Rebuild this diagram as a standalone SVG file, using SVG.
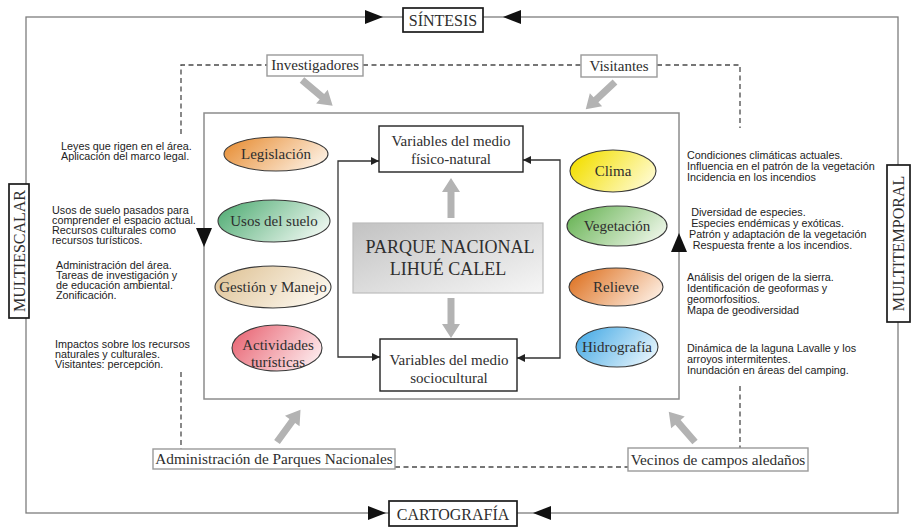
<svg xmlns="http://www.w3.org/2000/svg" xmlns:xlink="http://www.w3.org/1999/xlink" width="912" height="528" viewBox="0 0 912 528">
<style>
.frame{fill:none;stroke:#7d7d7d;stroke-width:1.3}
.inner{fill:none;stroke:#8c8c8c;stroke-width:1.5}
.dash{fill:none;stroke:#4a4a4a;stroke-width:1.3;stroke-dasharray:5 3.5}
.conn{fill:none;stroke:#333;stroke-width:1.3}
.tbox{fill:#fff;stroke:#1a1a1a;stroke-width:1.7}
.abox{fill:#fff;stroke:#9a9a9a;stroke-width:1.4}
.vbox{fill:#fff;stroke:#222;stroke-width:1.4}
.ell{stroke:#3a3a3a;stroke-width:1.1}
.serif{font-family:"Liberation Serif","DejaVu Serif",serif;fill:#2e2e2e;text-anchor:middle}
.sans{font-family:"Liberation Sans",Arial,sans-serif;font-size:10px;fill:#222}
.tri{fill:#111}
.garrow{fill:#b3b3b3}
</style>
<defs>
<marker id="ah" markerUnits="userSpaceOnUse" markerWidth="9" markerHeight="8" refX="8" refY="4" orient="auto">
<path d="M0,0 L8,4 L0,8 z" fill="#222"/>
</marker>
<polygon id="ga" points="0,-3.5 26,-3.5 26,-9 40,0 26,9 26,3.5 0,3.5"/>
<linearGradient id="gPark" x1="0" y1="0" x2="1" y2="1"><stop offset="0" stop-color="#c2c2c2"/><stop offset="1" stop-color="#f6f6f6"/></linearGradient>
<linearGradient id="gLeg" x1="0" y1="0.3" x2="1" y2="0.7"><stop offset="0" stop-color="#e8923c"/><stop offset="1" stop-color="#fdf1e4"/></linearGradient>
<linearGradient id="gUso" x1="0" y1="0.3" x2="1" y2="0.7"><stop offset="0" stop-color="#58b07a"/><stop offset="1" stop-color="#f0f8f2"/></linearGradient>
<linearGradient id="gGes" x1="0" y1="0.3" x2="1" y2="0.7"><stop offset="0" stop-color="#e0c59a"/><stop offset="1" stop-color="#fdf9f1"/></linearGradient>
<linearGradient id="gAct" x1="0" y1="0.3" x2="1" y2="0.7"><stop offset="0" stop-color="#e96a78"/><stop offset="1" stop-color="#fdebed"/></linearGradient>
<linearGradient id="gCli" x1="0" y1="0.3" x2="1" y2="0.7"><stop offset="0" stop-color="#f3df00"/><stop offset="1" stop-color="#fffbd2"/></linearGradient>
<linearGradient id="gVeg" x1="0" y1="0.3" x2="1" y2="0.7"><stop offset="0" stop-color="#6db65a"/><stop offset="1" stop-color="#eef6e9"/></linearGradient>
<linearGradient id="gRel" x1="0" y1="0.3" x2="1" y2="0.7"><stop offset="0" stop-color="#df7628"/><stop offset="1" stop-color="#fdeee2"/></linearGradient>
<linearGradient id="gHid" x1="0" y1="0.3" x2="1" y2="0.7"><stop offset="0" stop-color="#4cade6"/><stop offset="1" stop-color="#e8f5fc"/></linearGradient>
</defs>
<rect width="912" height="528" fill="#fff"/>

<g id="connectors">
<rect class="frame" x="26" y="17" width="872" height="496"/>
<rect class="inner" x="204" y="113" width="475" height="286"/>
<path class="dash" d="M181,134 V65 H267"/>
<path class="dash" d="M363,65 H581"/>
<path class="dash" d="M657,65 H740 V128"/>
<path class="dash" d="M181,372 V449"/>
<path class="dash" d="M395,467 H628"/>
<path class="dash" d="M740,386 V448"/>
<path class="conn" d="M338,259 V161 H379" marker-end="url(#ah)"/>
<path class="conn" d="M338,259 V357 H380" marker-end="url(#ah)"/>
<path class="conn" d="M560,259 V160 H523" marker-end="url(#ah)"/>
<path class="conn" d="M560,259 V358 H517" marker-end="url(#ah)"/>
<polygon class="tri" points="365,10 383,17 365,24"/>
<polygon class="tri" points="521,10 503,17 521,24"/>
<polygon class="tri" points="368,506 386,513 368,520"/>
<polygon class="tri" points="551,506 533,513 551,520"/>
<polygon class="tri" points="196,228 212,228 204,247"/>
<polygon class="tri" points="671,252 687,252 679,233"/>
<use xlink:href="#ga" class="garrow" transform="translate(302,80) rotate(40)"/>
<use xlink:href="#ga" class="garrow" transform="translate(615,82) rotate(137)"/>
<use xlink:href="#ga" class="garrow" transform="translate(451,218) rotate(-90)"/>
<use xlink:href="#ga" class="garrow" transform="translate(451,298) rotate(90)"/>
<use xlink:href="#ga" class="garrow" transform="translate(277,442) rotate(-54)"/>
<use xlink:href="#ga" class="garrow" transform="translate(695,442) rotate(-131)"/>
</g>

<g id="sintesis"><rect class="tbox" x="403" y="8" width="80" height="24"/><text class="serif" x="443" y="26" font-size="16">SÍNTESIS</text></g>
<g id="cartografia"><rect class="tbox" x="389" y="501" width="128" height="25"/><text class="serif" x="453" y="520" font-size="16">CARTOGRAFÍA</text></g>
<g id="multiescalar"><rect class="tbox" x="9" y="184" width="20" height="134"/><text class="serif" font-size="16" transform="translate(24.5,251) rotate(-90)">MULTIESCALAR</text></g>
<g id="multitemporal"><rect class="tbox" x="887" y="165" width="23" height="157"/><text class="serif" font-size="16" transform="translate(904,243.5) rotate(-90)">MULTITEMPORAL</text></g>

<g id="investigadores"><rect class="abox" x="267" y="55" width="96" height="21"/><text class="serif" x="315" y="70" font-size="15">Investigadores</text></g>
<g id="visitantes"><rect class="abox" x="581" y="55" width="76" height="22"/><text class="serif" x="619" y="70.5" font-size="15">Visitantes</text></g>
<g id="administracion"><rect class="abox" x="153" y="449" width="242" height="20"/><text class="serif" x="274" y="464" font-size="15.3">Administración de Parques Nacionales</text></g>
<g id="vecinos"><rect class="abox" x="628" y="448" width="180" height="23"/><text class="serif" x="718" y="464.5" font-size="15.3">Vecinos de campos aledaños</text></g>

<g id="fisico"><rect class="vbox" x="379" y="126" width="144" height="46"/><text class="serif" x="451" y="146" font-size="15">Variables del medio</text><text class="serif" x="451" y="164" font-size="15">físico-natural</text></g>
<g id="socio"><rect class="vbox" x="380" y="339" width="137" height="52"/><text class="serif" x="449" y="365" font-size="15">Variables del medio</text><text class="serif" x="449" y="383" font-size="15">sociocultural</text></g>
<g id="parque"><rect x="353" y="223" width="190" height="70" fill="url(#gPark)" stroke="#bdbdbd" stroke-width="1.2"/><text class="serif" x="450" y="253" font-size="18" fill="#3a3a3a">PARQUE NACIONAL</text><text class="serif" x="448" y="275" font-size="18" fill="#3a3a3a">LIHUÉ CALEL</text></g>

<g id="legislacion"><ellipse class="ell" cx="276" cy="154" rx="52" ry="17" fill="url(#gLeg)"/><text class="serif" x="276" y="159" font-size="15">Legislación</text></g>
<g id="usos"><ellipse class="ell" cx="274" cy="221" rx="56" ry="21" fill="url(#gUso)"/><text class="serif" x="274" y="226" font-size="15">Usos del suelo</text></g>
<g id="gestion"><ellipse class="ell" cx="273" cy="287" rx="58" ry="21" fill="url(#gGes)"/><text class="serif" x="273" y="292" font-size="15">Gestión y Manejo</text></g>
<g id="actividades"><ellipse class="ell" cx="277" cy="348" rx="45" ry="23" fill="url(#gAct)"/><text class="serif" x="278" y="350" font-size="15">Actividades</text><text class="serif" x="278" y="367" font-size="15">turísticas</text></g>
<g id="clima"><ellipse class="ell" cx="613" cy="171" rx="43" ry="21" fill="url(#gCli)"/><text class="serif" x="613" y="176" font-size="15">Clima</text></g>
<g id="vegetacion"><ellipse class="ell" cx="617" cy="226" rx="50" ry="20" fill="url(#gVeg)"/><text class="serif" x="617" y="231" font-size="15">Vegetación</text></g>
<g id="relieve"><ellipse class="ell" cx="616" cy="287" rx="47" ry="19" fill="url(#gRel)"/><text class="serif" x="616" y="292" font-size="15">Relieve</text></g>
<g id="hidrografia"><ellipse class="ell" cx="617" cy="347" rx="41" ry="20" fill="url(#gHid)"/><text class="serif" x="617" y="352" font-size="15">Hidrografía</text></g>

<g id="notes-left">
<text class="sans" transform="translate(61,0) scale(1.08,1)"><tspan x="0" y="150">Leyes que rigen en el área.</tspan><tspan x="0" y="160">Aplicación del marco legal.</tspan></text>
<text class="sans" transform="translate(52,0) scale(1.08,1)"><tspan x="0" y="214">Usos de suelo pasados para</tspan><tspan x="0" y="224">comprender el espacio actual.</tspan><tspan x="0" y="234">Recursos culturales como</tspan><tspan x="0" y="244">recursos turísticos.</tspan></text>
<text class="sans" transform="translate(56,0) scale(1.08,1)"><tspan x="0" y="269">Administración del área.</tspan><tspan x="0" y="279">Tareas de investigación y</tspan><tspan x="0" y="289">de educación ambiental.</tspan><tspan x="0" y="299">Zonificación.</tspan></text>
<text class="sans" transform="translate(55,0) scale(1.08,1)"><tspan x="0" y="348">Impactos sobre los recursos</tspan><tspan x="0" y="358">naturales y culturales.</tspan><tspan x="0" y="368">Visitantes: percepción.</tspan></text>
</g>
<g id="notes-right">
<text class="sans" transform="translate(687,0) scale(1.08,1)"><tspan x="0" y="159">Condiciones climáticas actuales.</tspan><tspan x="0" y="170">Influencia en el patrón de la vegetación</tspan><tspan x="0" y="181">Incidencia en los incendios</tspan></text>
<text class="sans" transform="translate(689,0) scale(1.08,1)"><tspan x="2" y="216">Diversidad de especies.</tspan><tspan x="2" y="227">Especies endémicas y exóticas.</tspan><tspan x="0" y="238">Patrón y adaptación de la vegetación</tspan><tspan x="3.5" y="249">Respuesta frente a los incendios.</tspan></text>
<text class="sans" transform="translate(687,0) scale(1.08,1)"><tspan x="0" y="281">Análisis del origen de la sierra.</tspan><tspan x="0" y="292">Identificación de geoformas y</tspan><tspan x="0" y="303">geomorfositios.</tspan><tspan x="0" y="314">Mapa de geodiversidad</tspan></text>
<text class="sans" transform="translate(687,0) scale(1.08,1)"><tspan x="0" y="352">Dinámica de la laguna Lavalle y los</tspan><tspan x="0" y="363">arroyos intermitentes.</tspan><tspan x="0" y="374">Inundación en áreas del camping.</tspan></text>
</g>
</svg>
